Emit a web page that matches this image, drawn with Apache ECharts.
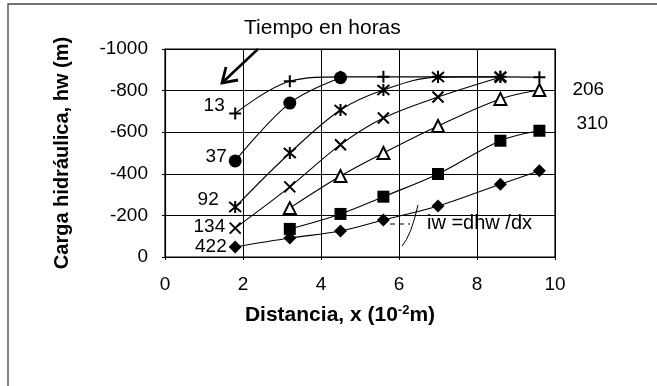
<!DOCTYPE html>
<html>
<head>
<meta charset="utf-8">
<script src="https://cdn.jsdelivr.net/npm/echarts@6/dist/echarts.min.js"></script>
<style>
  html, body { margin: 0; padding: 0; background: #fff; }
  #chart { width: 657px; height: 386px; }
</style>
</head>
<body>
<div id="chart"></div>
<script>
// Distances along the sample (10^-2 m)
const xs = [1.8, 3.2, 4.5, 5.6, 7.0, 8.6, 9.6];

// Hydraulic head (m) for each elapsed time
const h13  = [-690, -845, -866, -866, -866, -866, -864];
const h37  = [-462, -740, -862];
const h92  = [-240, -500, -707, -803, -865, -866];
const h134 = [-139, -337, -540, -668, -769, -864];
const h206 = [null, -235, -389, -500, -630, -760, -803];
const h310 = [null, -135, -207, -290, -399, -559, -607];
const h422 = [-48, -91, -125, -178, -245, -350, -415];

// Axis ticks
const xTicks = [0, 2, 4, 6, 8, 10];
const yTicks = [-1000, -800, -600, -400, -200, 0];

const FONT = 'Liberation Sans, Arial, sans-serif';

function pairs(vals, labelIdx, label) {
  const out = [];
  vals.forEach((v, i) => {
    if (v === null) return;
    const item = { value: [xs[i], v] };
    if (i === labelIdx && label) item.label = label;
    out.push(item);
  });
  return out;
}

function leftLabel(text, dx, dy) {
  return { show: true, position: 'left', distance: 2, formatter: text,
           offset: [dx, dy], color: '#000', fontSize: 19, fontFamily: FONT };
}

const PLUS  = 'path://M6,0L6,12M0,6L12,6';
const CROSS = 'path://M0,0L12,12M0,12L12,0';
const STAR  = 'path://M6,0L6,12M1,1L11,11M1,11L11,1';

function lineSeries(name, data, symbol, size, fill, bw) {
  return {
    name, type: 'line', data, symbol, symbolSize: size,
    smooth: 0.35, showAllSymbol: true,
    lineStyle: { color: '#000', width: 1.1 },
    itemStyle: { color: fill, borderColor: '#000', borderWidth: bw },
    emphasis: { disabled: true }, animation: false
  };
}

const chart = echarts.init(document.getElementById('chart'), null, { renderer: 'canvas' });

const series = [
  lineSeries('13', pairs(h13, 0, leftLabel('13', 0, -8)), PLUS, 12, 'none', 2),
  lineSeries('37', pairs(h37, 0, leftLabel('37', 0, -4)), 'circle', 13, '#000', 0),
  lineSeries('92', pairs(h92, 0, leftLabel('92', -6, -7)), STAR, 12, 'none', 2),
  lineSeries('134', pairs(h134, 0, leftLabel('134', 0, -1)), CROSS, 11, 'none', 2),
  lineSeries('206', pairs(h206, 6, { show: true, position: 'right', distance: 26,
      formatter: '206', offset: [0, 0], color: '#000', fontSize: 19, fontFamily: FONT }),
      'triangle', 12, '#fff', 2),
  lineSeries('310', pairs(h310, 6, { show: true, position: 'right', distance: 31,
      formatter: '310', offset: [0, -7], color: '#000', fontSize: 19, fontFamily: FONT }),
      'rect', 12, '#000', 0),
  lineSeries('422', pairs(h422, 0, leftLabel('422', 0, 0)), 'diamond', 13, '#000', 0)
];

const option = {
  animation: false,
  backgroundColor: '#fff',
  grid: { left: 165, right: 102, top: 49, bottom: 129, show: true,
          borderColor: '#000', borderWidth: 1.2 },
  xAxis: {
    type: 'value', min: xTicks[0], max: xTicks[xTicks.length - 1], interval: 2,
    axisLine: { show: true, lineStyle: { color: '#000', width: 1.2 } },
    axisTick: { show: true, length: 3, lineStyle: { color: '#000' } },
    splitLine: { show: true, lineStyle: { color: '#000', width: 1 } },
    axisLabel: { color: '#000', fontSize: 19, fontFamily: FONT, margin: 18 },
    name: 'Distancia, x (10{sup|-2}m)',
    nameLocation: 'middle', nameGap: 47,
    nameTextStyle: {
      color: '#000', fontSize: 21, fontWeight: 'bold', fontFamily: FONT,
      padding: [0, 40, 0, 0],
      rich: { sup: { fontSize: 13, fontWeight: 'bold', fontFamily: FONT, padding: [0, 0, 9, 0] } }
    }
  },
  yAxis: {
    type: 'value', min: yTicks[0], max: yTicks[yTicks.length - 1], interval: 200,
    inverse: true,
    axisLine: { show: true, lineStyle: { color: '#000', width: 1.2 } },
    axisTick: { show: true, length: 3, lineStyle: { color: '#000' } },
    splitLine: { show: true, lineStyle: { color: '#000', width: 1 } },
    axisLabel: { color: '#000', fontSize: 19, fontFamily: FONT, margin: 17,
                 padding: [0, 0, 11, 0], formatter: v => String(v) },
    name: 'Carga hidráulica, hw (m)',
    nameLocation: 'middle', nameGap: 93,
    nameTextStyle: { color: '#000', fontSize: 20, fontWeight: 'bold', fontFamily: FONT,
                     padding: [8, 0, 0, 0] }
  },
  series,
  graphic: [
    // outer frame
    { type: 'rect', shape: { x: 8, y: 4, width: 700, height: 420 },
      style: { fill: 'none', stroke: '#444', lineWidth: 1.3 }, silent: true, z: 0 },
    { type: 'text', left: 244, top: 18,
      style: { text: 'Tiempo en horas', font: '21px ' + FONT, fill: '#000' }, z: 10 },
    // arrow pointing to the early curves
    { type: 'line', shape: { x1: 258, y1: 49, x2: 223, y2: 82 },
      style: { stroke: '#000', lineWidth: 2.5 }, z: 10 },
    { type: 'polyline', shape: { points: [[226, 67], [222, 83], [238, 80]] },
      style: { stroke: '#000', lineWidth: 2.8, fill: 'none', lineJoin: 'miter' }, z: 10 },
    // gradient annotation
    { type: 'line', shape: { x1: 390, y1: 224, x2: 410, y2: 224 },
      style: { stroke: '#000', lineWidth: 1, lineDash: [5, 4] }, z: 10 },
    { type: 'bezierCurve', shape: { x1: 402, y1: 246, cpx1: 411, cpy1: 236, x2: 418, y2: 205 },
      style: { stroke: '#000', lineWidth: 1, fill: 'none' }, z: 10 },
    { type: 'text', left: 427, top: 213,
      style: { text: 'iw =dhw /dx', font: '20px ' + FONT, fill: '#000' }, z: 10 }
  ]
};

chart.setOption(option);
</script>
</body>
</html>
